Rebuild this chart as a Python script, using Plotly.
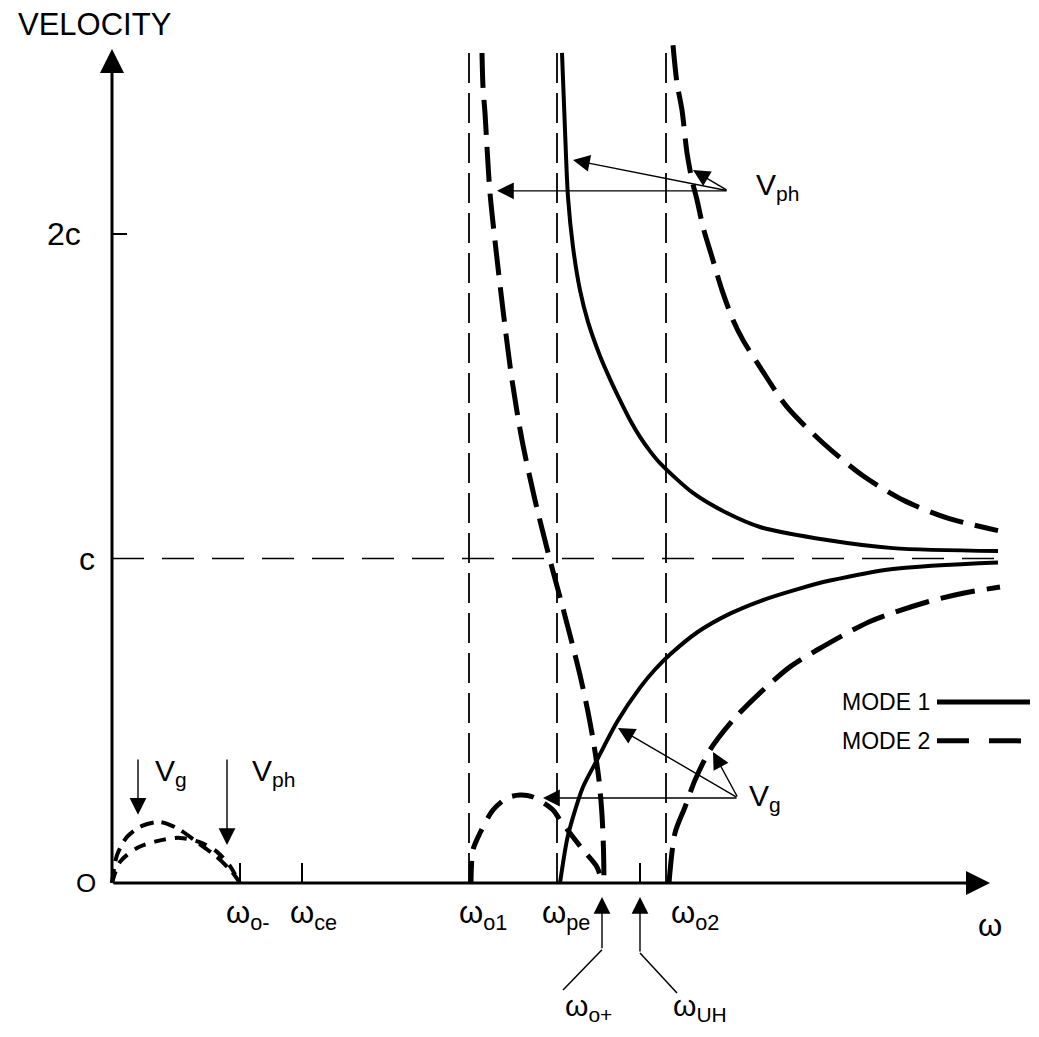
import plotly.graph_objects as go

# ---------------- data (ω in arbitrary units, velocity in units of c) ----------------
W0M, WCE, W01, WPE, W0P, WUH, W02 = 1.28, 1.90, 3.57, 4.45, 4.90, 5.28, 5.54
W_AXIS_END = 8.78
V_AXIS_END = 2.57
V_DASH_TOP = 2.56
C_LINE_END = 8.86
TICK_2C = 2.0

# MODE 1 (solid)
m1_hi_w = [4.50, 4.53, 4.56, 4.61, 4.68, 4.76, 4.88, 4.98, 5.08, 5.18, 5.28, 5.38, 5.48, 5.81, 6.15, 6.48, 7.15, 7.81, 8.86]
m1_hi_v = [2.558, 2.320, 2.114, 1.960, 1.827, 1.729, 1.624, 1.553, 1.488, 1.427, 1.375, 1.331, 1.294, 1.202, 1.140, 1.097, 1.057, 1.032, 1.023]
m1_lo_w = [4.48, 4.55, 4.61, 4.71, 4.85, 5.05, 5.28, 5.43, 5.58, 5.85, 6.18, 6.51, 6.85, 7.18, 7.81, 8.86]
m1_lo_v = [0.0, 0.133, 0.203, 0.296, 0.379, 0.496, 0.602, 0.658, 0.704, 0.772, 0.830, 0.872, 0.905, 0.932, 0.968, 0.988]

# MODE 2 (dashed)
m2_a_w = [3.70, 3.71, 3.73, 3.75, 3.78, 3.84, 3.91, 4.00, 4.10, 4.23, 4.38, 4.48, 4.58, 4.68, 4.76, 4.82, 4.87, 4.90, 4.915, 4.92]
m2_a_v = [2.558, 2.453, 2.373, 2.268, 2.126, 1.951, 1.766, 1.550, 1.365, 1.180, 0.995, 0.881, 0.764, 0.641, 0.527, 0.425, 0.317, 0.210, 0.102, 0.0]
m2_b_w = [5.61, 5.65, 5.70, 5.75, 5.80, 5.85, 5.91, 6.00, 6.10, 6.21, 6.31, 6.48, 6.75, 7.11, 7.51, 7.91, 8.35, 8.86]
m2_b_v = [2.582, 2.465, 2.382, 2.250, 2.166, 2.105, 2.022, 1.929, 1.827, 1.735, 1.673, 1.590, 1.467, 1.356, 1.255, 1.180, 1.125, 1.086]
m2_c_w = [5.57, 5.63, 5.73, 5.83, 5.98, 6.21, 6.48, 6.78, 7.05, 7.58, 8.15, 8.51, 8.88]
m2_c_v = [0.0, 0.154, 0.234, 0.317, 0.410, 0.502, 0.586, 0.666, 0.718, 0.806, 0.866, 0.893, 0.912]
m2_arch_w = [3.59, 3.61, 3.68, 3.81, 3.95, 4.08, 4.21, 4.41, 4.48, 4.61, 4.71, 4.85, 4.90]
m2_arch_v = [0.0, 0.102, 0.154, 0.225, 0.262, 0.271, 0.265, 0.225, 0.194, 0.142, 0.102, 0.049, 0.0]
low_a_w = [0.0, 0.05, 0.15, 0.30, 0.48, 0.65, 0.85, 1.05, 1.20, 1.28]
low_a_v = [0.0, 0.086, 0.142, 0.176, 0.188, 0.169, 0.126, 0.080, 0.034, 0.0]
low_b_w = [0.0, 0.08, 0.25, 0.45, 0.68, 0.90, 1.05, 1.18, 1.26]
low_b_v = [0.0, 0.065, 0.108, 0.129, 0.139, 0.123, 0.096, 0.052, 0.009]

# pointer arrows: (tail ω, tail v, tip ω, tip v)
vph_top = [(6.16, 2.133, 3.85, 2.133), (6.16, 2.133, 4.61, 2.228), (6.16, 2.133, 5.81, 2.197)]
vg_bot = [(6.26, 0.262, 4.31, 0.262), (6.26, 0.262, 5.06, 0.478), (6.26, 0.262, 6.01, 0.404)]
low_arrows = [(0.26, 0.385, 0.26, 0.210), (1.15, 0.385, 1.15, 0.117)]
w0p_leader_w = [4.51, 4.90, 4.90]
w0p_leader_v = [-0.330, -0.206, -0.043]
wuh_leader_w = [5.65, 5.28, 5.28]
wuh_leader_v = [-0.339, -0.216, -0.043]
x_ticks = [W0M, WCE, WUH]
x_tick_h = 0.062

legend_w = [8.25, 9.18]
legend_v = [0.558, 0.438]

FONT = "Liberation Sans"
INK = "black"

fig = go.Figure()

def line(xs, ys, width=3, dash="solid"):
    fig.add_trace(go.Scatter(x=xs, y=ys, mode="lines", line=dict(color=INK, width=width, dash=dash,
                                                                 shape="spline", smoothing=0.8),
                             hoverinfo="skip", showlegend=False))

def straight(xs, ys, width=2, dash="solid"):
    fig.add_trace(go.Scatter(x=xs, y=ys, mode="lines", line=dict(color=INK, width=width, dash=dash),
                             hoverinfo="skip", showlegend=False))

# guide lines
for w in (W01, WPE, W02):
    straight([w, w], [0, V_DASH_TOP], width=1.8, dash="30px,10px")
straight([0, C_LINE_END], [1, 1], width=1.6, dash="32px,18px")
straight([0, 0.15], [TICK_2C, TICK_2C], width=2)
for t in x_ticks:
    straight([t, t], [0, x_tick_h], width=2)

# curves
MODE2_DASH = "35px,12px"
line(m1_hi_w, m1_hi_v, width=4)
line(m1_lo_w, m1_lo_v, width=4)
line(m2_a_w, m2_a_v, width=5, dash=MODE2_DASH)
line(m2_b_w, m2_b_v, width=5, dash=MODE2_DASH)
line(m2_c_w, m2_c_v, width=5, dash=MODE2_DASH)
line(m2_arch_w, m2_arch_v, width=5, dash="22px,12px")
line(low_a_w, low_a_v, width=4, dash="14px,8px")
line(low_b_w, low_b_v, width=4, dash="12px,9px")

# leaders below the axis
straight(w0p_leader_w[:2], w0p_leader_v[:2], width=1.5)
straight(wuh_leader_w[:2], wuh_leader_v[:2], width=1.5)

# legend samples
straight(legend_w, [legend_v[0]] * 2, width=5)
straight(legend_w, [legend_v[1]] * 2, width=5, dash="32px,20px")

ann = []

def arrow(tail_w, tail_v, tip_w, tip_v, width=1.4, size=2.4, head=2):
    ann.append(dict(x=tip_w, y=tip_v, ax=tail_w, ay=tail_v, xref="x", yref="y", axref="x", ayref="y",
                    showarrow=True, arrowhead=head, arrowsize=size, arrowwidth=width, arrowcolor=INK,
                    standoff=0, text=""))

# axes with arrowheads
arrow(0, 0, 0, V_AXIS_END, width=3, size=1.6)
arrow(0, 0, W_AXIS_END, 0, width=3, size=1.6)

for a in vph_top + vg_bot + low_arrows:
    arrow(*a)
arrow(w0p_leader_w[1], w0p_leader_v[1], w0p_leader_w[2], w0p_leader_v[2])
arrow(wuh_leader_w[1], wuh_leader_v[1], wuh_leader_w[2], wuh_leader_v[2])

def text(t, x, y, size=28, xanchor="center", yanchor="middle"):
    ann.append(dict(x=x, y=y, xref="x", yref="y", text=t, showarrow=False, xanchor=xanchor,
                    yanchor=yanchor, font=dict(family=FONT, size=size, color=INK)))

text("VELOCITY", -0.18, 2.647, size=31)
text("2c", -0.29, 2.0, size=32, xanchor="right")
text("c", -0.15, 1.0, size=32, xanchor="right")
text("O", -0.14, 0.0, size=26, xanchor="right")
text("V<sub>g</sub>", 0.59, 0.342, size=30)
text("V<sub>ph</sub>", 1.61, 0.342, size=30)
text("V<sub>ph</sub>", 6.65, 2.145, size=30)
text("V<sub>g</sub>", 6.53, 0.262, size=30)
text("MODE 1", 8.20, legend_v[0], size=23, xanchor="right")
text("MODE 2", 8.20, legend_v[1], size=23, xanchor="right")
text("ω<sub>o-</sub>", W0M + 0.08, -0.10, size=31)
text("ω<sub>ce</sub>", WCE + 0.11, -0.10, size=31)
text("ω<sub>o1</sub>", W01 + 0.14, -0.10, size=31)
text("ω<sub>pe</sub>", WPE + 0.09, -0.10, size=31)
text("ω<sub>o2</sub>", W02 + 0.29, -0.10, size=31)
text("ω", W_AXIS_END, -0.13, size=31)
text("ω<sub>o+</sub>", 4.76, -0.385, size=30)
text("ω<sub>UH</sub>", 5.88, -0.385, size=30)

# the page body has an 8 px margin; size the figure so that data pixels line up with the window
fig.update_layout(
    width=1031, height=1029, margin=dict(l=0, r=0, t=0, b=0),
    paper_bgcolor="white", plot_bgcolor="white", showlegend=False,
    xaxis=dict(range=[-1.04, 9.27], visible=False, fixedrange=True),
    yaxis=dict(range=[-0.4746, 2.6965], visible=False, fixedrange=True),
    annotations=ann,
)

fig.write_html("out.html", config={"displayModeBar": False})
